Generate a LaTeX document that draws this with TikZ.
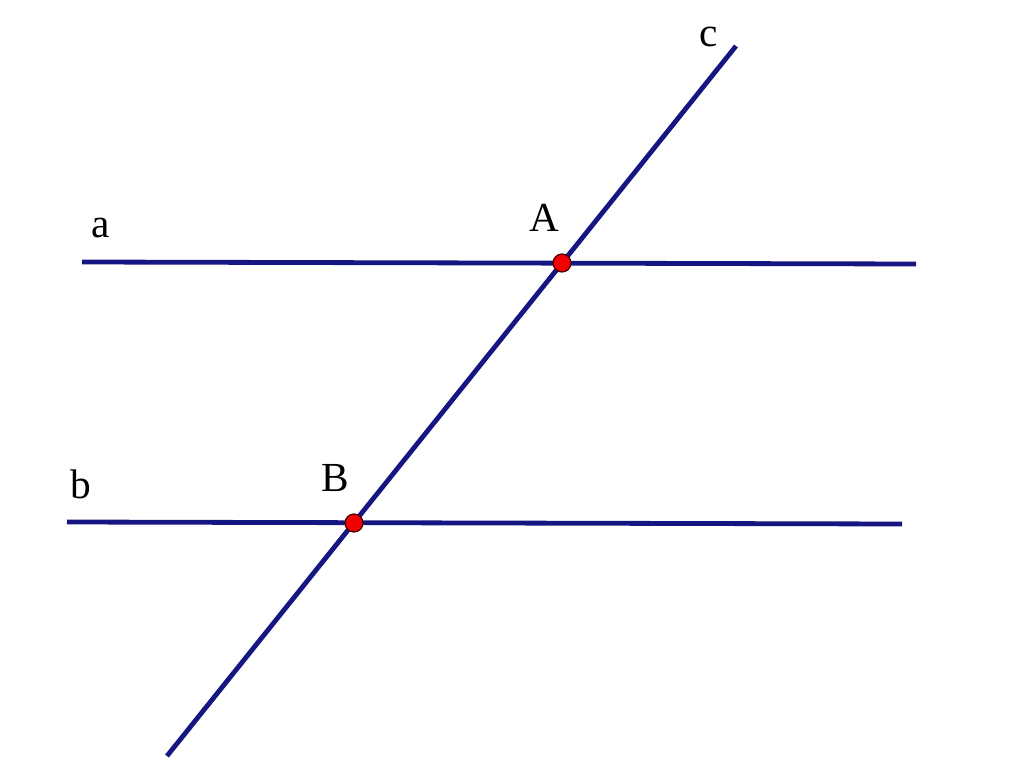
\documentclass[tikz,border=0pt]{standalone}
\usepackage{fontspec}
\setmainfont{Liberation Serif}
\definecolor{linec}{RGB}{22,22,130}
\definecolor{dotc}{RGB}{240,0,0}
\begin{document}
\begin{tikzpicture}[x=0.75pt,y=-0.75pt,
  geoline/.style={draw=linec,line width=3.6pt},
  ptdot/.style={circle,fill=dotc,draw=black!70!red,line width=0.9pt,minimum size=13.5pt,inner sep=0pt},
  lbl/.style={font=\fontsize{31}{31}\selectfont,inner sep=0pt,anchor=base}]
\useasboundingbox (0,0) rectangle (1024,780);
\coordinate (a1) at (82,262);
\coordinate (a2) at (916,264);
\coordinate (b1) at (67,522);
\coordinate (b2) at (902,524);
\coordinate (c1) at (167,756);
\coordinate (c2) at (736,46);
\draw[geoline] (a1) -- (a2);
\draw[geoline] (b1) -- (b2);
\draw[geoline] (c1) -- (c2);
\node[ptdot] (A) at (562,263) {};
\node[ptdot] (B) at (354,523) {};
\node[lbl] (la) at (101,238) {a};
\node[lbl] (lb) at (81,498) {b};
\node[lbl] (lc) at (709,47) {c};
\node[lbl] (lA) at (544,232) {A};
\node[lbl] (lB) at (335,491) {B};
\end{tikzpicture}
\end{document}
